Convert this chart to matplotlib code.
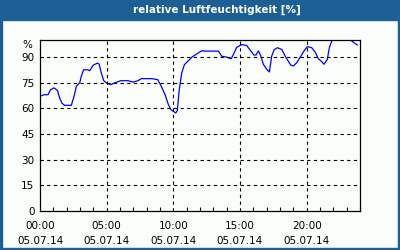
import matplotlib.pyplot as plt
import matplotlib.patches as patches

# relative humidity over one day, hours since 00:00 on 05.07.14
hours = [0.0, 0.3, 0.6, 0.8, 1.05, 1.3, 1.48, 1.65, 1.85, 2.35, 2.55, 2.73, 2.98,
         3.1, 3.27, 3.6, 3.73, 3.98, 4.3, 4.43, 4.6, 4.78, 4.98, 5.3, 5.6, 6.05,
         6.6, 6.98, 7.35, 7.6, 7.98, 8.4, 8.83, 9.1, 9.38, 9.63, 9.83, 10.0, 10.18,
         10.3, 10.43, 10.63, 10.83, 11.13, 11.38, 11.75, 12.13, 12.38, 13.38, 13.63,
         14.0, 14.33, 14.5, 14.75, 15.13, 15.5, 15.83, 16.05, 16.2, 16.38, 16.55,
         16.75, 17.0, 17.2, 17.38, 17.55, 17.8, 18.13, 18.45, 18.8, 19.0, 19.25,
         19.5, 19.8, 20.05, 20.38, 20.63, 20.88, 21.08, 21.3, 21.55, 21.7, 21.88,
         22.0, 22.5, 23.0, 23.38, 23.63, 23.8]
humidity = [67.1, 68.0, 68.0, 71.0, 72.0, 70.6, 66.0, 63.0, 61.8, 61.8, 67.0, 73.0, 75.0,
            78.8, 82.6, 82.6, 82.0, 85.2, 86.5, 86.0, 80.7, 76.2, 74.9, 73.9, 74.9, 76.2,
            76.2, 75.4, 76.2, 77.4, 77.4, 77.4, 76.8, 72.9, 68.0, 62.2, 59.2, 58.3, 57.3,
            58.7, 70.0, 80.7, 85.6, 87.9, 89.9, 91.8, 93.7, 93.5, 93.5, 90.5,
            90.0, 89.0, 91.4, 95.7, 97.3, 96.8, 93.4, 91.2, 91.2, 93.6, 91.0,
            85.8, 82.9, 81.3, 90.6, 94.2, 95.5, 94.5, 89.7, 85.4, 84.8, 86.7,
            89.7, 93.6, 96.1, 95.5, 93.0, 89.0, 87.7, 85.8, 88.7, 95.5, 99.4,
            100.5, 102.0, 101.5, 99.4, 98.0, 97.1]

y_ticks = [0, 15, 30, 45, 60, 75, 90]
x_major = [0, 5, 10, 15, 20]
x_labels = ['00:00\n05.07.14', '05:00\n05.07.14', '10:00\n05.07.14',
            '15:00\n05.07.14', '20:00\n05.07.14']

bg = '#fbfdfb'
blue = '#1c5f94'

fig = plt.figure(figsize=(4, 2.5), dpi=100, facecolor=bg)
ax = fig.add_axes([40/400, 1 - 211/250, 320/400, 171/250], facecolor=bg)

# frame / title bar
fig.patches.append(patches.Rectangle((0, 1 - 20/250), 1, 20/250, transform=fig.transFigure,
                                     color=blue, zorder=0))
fig.patches.append(patches.Rectangle((0, 0), 2/400, 1, transform=fig.transFigure, color=blue))
fig.patches.append(patches.Rectangle((398/400, 0), 2/400, 1, transform=fig.transFigure, color=blue))
fig.patches.append(patches.Rectangle((0, 0), 1, 2/250, transform=fig.transFigure, color=blue))
fig.text(217/400, 1 - 10/250, 'relative Luftfeuchtigkeit [%]', color='white',
         fontsize=7.5, fontweight='bold', ha='center', va='center')

ax.plot(hours, humidity, color='#0000ff', lw=0.9, clip_on=True)

ax.set_xlim(0, 24)
ax.set_ylim(0, 100)
ax.set_yticks(y_ticks)
ax.set_xticks(x_major)
ax.set_xticklabels(x_labels)
ax.set_xticks(range(25), minor=True)

for y in y_ticks[1:]:
    ax.axhline(y, color='black', lw=0.8, ls=(0, (3, 3)))
for x in x_major[1:]:
    ax.axvline(x, color='black', lw=0.8, ls=(0, (3, 3)))

ax.tick_params(axis='y', length=0, pad=4, labelsize=7.5)
ax.tick_params(axis='x', which='major', length=0, pad=7, labelsize=7.5)
ax.tick_params(axis='x', which='minor', direction='in', length=3, width=0.8)
for lab in ax.get_xticklabels():
    lab.set_linespacing(1.6)
for s in ax.spines.values():
    s.set_linewidth(0.9)

ax.text(-0.025, 97, '%', transform=ax.get_yaxis_transform(), ha='right', va='center',
        fontsize=7.5)

fig.savefig('out.png', dpi=100, facecolor=bg)
